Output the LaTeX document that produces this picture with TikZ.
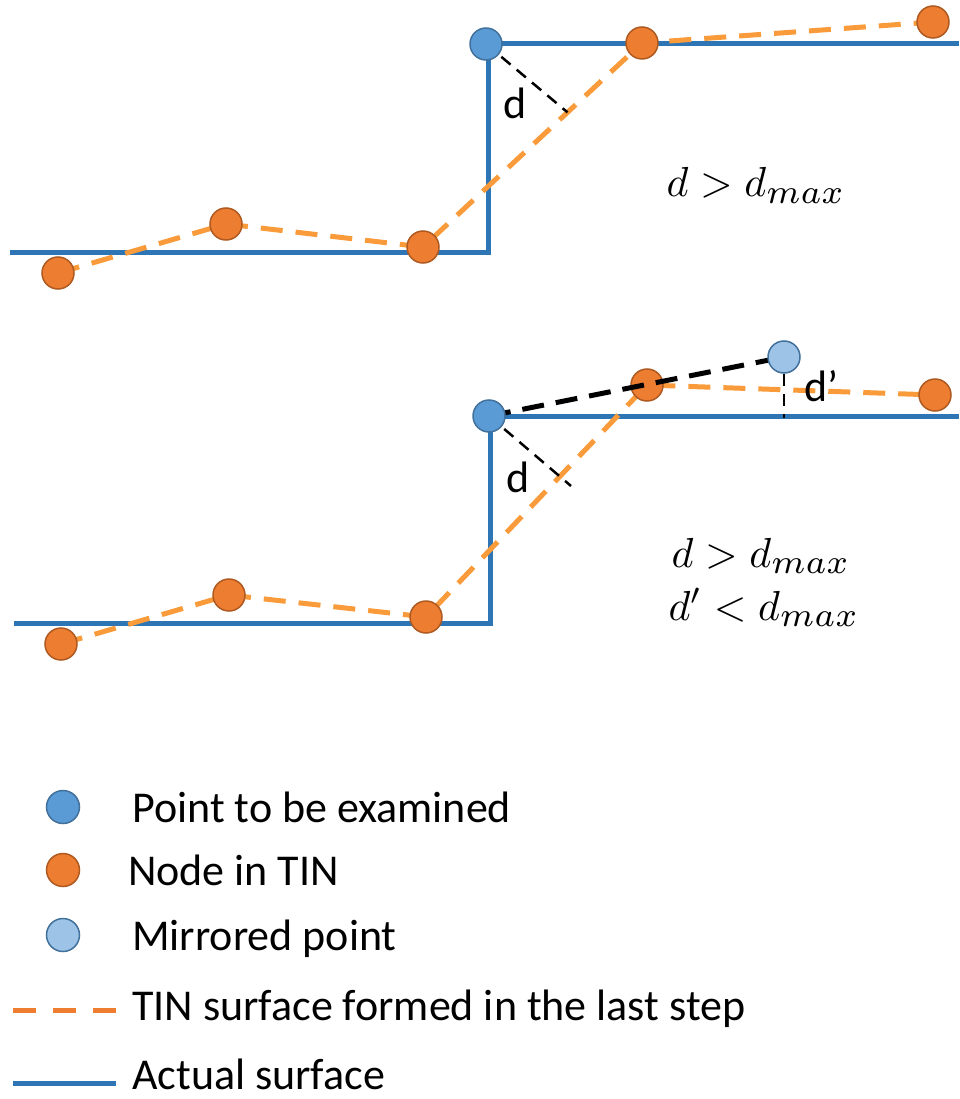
\documentclass[tikz,border=0pt]{standalone}
\usepackage{fontspec}
\setmainfont{Carlito}
\usepackage{graphicx}
\usetikzlibrary{calc}
\pgfdeclarelayer{back}
\pgfdeclarelayer{front}
\pgfsetlayers{back,main,front}
\definecolor{surf}{HTML}{2E75B6}
\definecolor{ptfill}{HTML}{5B9BD5}
\definecolor{ptedge}{HTML}{41719C}
\definecolor{tinfill}{HTML}{ED7D31}
\definecolor{tinedge}{HTML}{AE5A21}
\definecolor{tinline}{HTML}{F99B3A}
\definecolor{mirfill}{HTML}{9DC3E6}
\newcommand{\mysub}{\scalebox{1.15}{$\scriptstyle max$}}
\tikzset{
  surface/.style={draw=surf, line width=5pt},
  tinsurf/.style={draw=tinline, line width=5pt, dash pattern=on 22pt off 13pt},
  legtin/.style={draw=tinfill, line width=5pt, dash pattern=on 23pt off 17pt},
  ptbase/.style={circle, line width=1.5pt, minimum size=32pt, inner sep=0pt},
  examined/.style={ptbase, fill=ptfill, draw=ptedge},
  tinnode/.style={ptbase, fill=tinfill, draw=tinedge},
  mirrored/.style={ptbase, fill=mirfill, draw=ptedge},
  dline/.style={draw=black, line width=2.5pt, dash pattern=on 12pt off 8pt},
  mline/.style={draw=black, line width=5pt, dash pattern=on 22pt off 12pt},
  lbl/.style={font=\fontsize{44}{50}\selectfont, inner sep=0pt, text depth=0pt},
  mathlbl/.style={inner sep=0pt}
}
\begin{document}
\begin{tikzpicture}[x=1pt, y=-1pt]
\useasboundingbox (0,0) rectangle (959,1099);

% ---------------- top panel ----------------
\coordinate (s1a) at (10,252);
\coordinate (s1b) at (488,252);
\coordinate (s1c) at (488,44);
\coordinate (s1d) at (959,44);
\node[tinnode] (t1) at (58,273) {};
\node[tinnode] (t2) at (226,224) {};
\node[tinnode] (t3) at (423,247) {};
\node[tinnode] (t4) at (642,43) {};
\node[tinnode] (t5) at (933,22) {};
\begin{pgfonlayer}{front}
\node[examined] (p1) at (486,44) {};
\end{pgfonlayer}
\coordinate (f1) at ($(t3)!0.66!(t4)$);
\begin{pgfonlayer}{back}
\draw[surface, line join=miter] (s1a) -- (s1b) -- (s1c) -- (s1d);
\draw[tinsurf] (t1.center) -- (t2.center) -- (t3.center) -- (t4.center) -- (t5.center);
\draw[dline] (p1.center) -- (f1);
\end{pgfonlayer}
\node[lbl, anchor=base] (dl1) at (515,119) {d};
\node[mathlbl, anchor=base] (c1) at (756,197) {\scalebox{4.2}{$d > d_{\mysub}$}};

% ---------------- bottom panel ----------------
\coordinate (s2a) at (14,623);
\coordinate (s2b) at (490,623);
\coordinate (s2c) at (490,416);
\coordinate (s2d) at (959,416);
\node[tinnode] (u1) at (61,644) {};
\node[tinnode] (u2) at (229,595) {};
\node[tinnode] (u3) at (426,617) {};
\node[tinnode] (u4) at (647,385) {};
\node[tinnode] (u5) at (935,395) {};
\begin{pgfonlayer}{front}
\node[examined] (p2) at (489,416) {};
\node[mirrored] (m2) at (784,357) {};
\end{pgfonlayer}
\coordinate (f2) at (571,486);
\coordinate (g2) at (784,418);
\begin{pgfonlayer}{back}
\draw[surface, line join=miter] (s2a) -- (s2b) -- (s2c) -- (s2d);
\draw[tinsurf] (u1.center) -- (u2.center) -- (u3.center) -- (u4.center) -- (u5.center);
\draw[dline] (p2.center) -- (f2);
\draw[dline] (m2.south) -- (g2);
\end{pgfonlayer}
\draw[mline] (p2.center) -- (m2.center);
\node[lbl, anchor=base] (dl2) at (518,492) {d};
\node[lbl, anchor=base west] (dl3) at (804,401) {d’};
\node[mathlbl, anchor=base] (c2) at (761,567) {\scalebox{4.2}{$d > d_{\mysub}$}};
\node[mathlbl, anchor=base] (c3) at (764,620) {\scalebox{4.2}{$d' < d_{\mysub}$}};

% ---------------- legend ----------------
\node[examined, minimum size=33pt] (k1) at (63,807) {};
\node[tinnode, minimum size=33pt] (k2) at (63,870) {};
\node[mirrored, minimum size=33pt] (k3) at (63,935) {};
\coordinate (k4a) at (13,1010);
\coordinate (k4b) at (116,1010);
\coordinate (k5a) at (13,1083);
\coordinate (k5b) at (116,1083);
\draw[legtin] (k4a) -- (k4b);
\draw[surface] (k5a) -- (k5b);
\node[lbl, anchor=base west] (l1) at (132,822) {Point to be examined};
\node[lbl, anchor=base west] (l2) at (128,885) {Node in TIN};
\node[lbl, anchor=base west] (l3) at (132,950) {Mirrored point};
\node[lbl, anchor=base west] (l4) at (132,1020) {TIN surface formed in the last step};
\node[lbl, anchor=base west] (l5) at (132,1089) {Actual surface};
\end{tikzpicture}
\end{document}
